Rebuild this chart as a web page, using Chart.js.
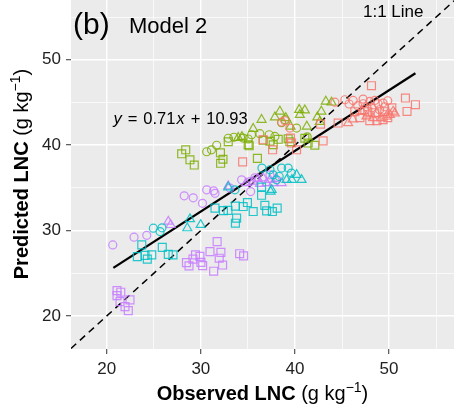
<!DOCTYPE html>
<html>
<head>
<meta charset="utf-8">
<script src="https://cdn.jsdelivr.net/npm/chart.js@4/dist/chart.umd.min.js"></script>
<style>
  html, body { margin: 0; padding: 0; background: #fff; overflow: hidden; }
  #grafica { display: block; }
</style>
</head>
<body>
<canvas id="grafica" width="454" height="408"></canvas>
<script>
// observed (x) vs predicted (y), g kg-1
const red_cuadros = [[34.44,38.05],[36.62,40.63],[37.62,39.46],[39.53,40.83],[39.64,40.25],[40.17,39.46],[42.72,42.47],[42.99,40.5],[44.59,42.59],[47.95,42.86],[49.36,42.98],[48.13,46.96],[51.74,45.52],[52.80,44.74],[51.91,43.95],[46.36,43.92],[46.90,43.21],[48.48,43.80],[49.54,43.92],[47.74,43.92],[48.70,42.86],[49.86,43.21],[50.29,44.38],[47.42,44.15]];
const red_circulos = [[38.58,42.71],[38.93,42.86],[39.46,42.00],[44.24,45.03],[45.75,44.82],[46.18,45.24],[47.24,45.40],[47.24,44.85],[47.95,45.12],[48.48,45.24],[48.83,44.85],[49.36,44.93],[49.54,44.50],[48.16,44.38],[48.99,44.15],[47.63,44.50],[46.67,44.62],[49.86,45.20],[45.30,45.32]];
const red_triangulos = [[45.65,42.59],[46.15,43.04],[47.60,43.39],[48.30,43.18],[49.19,43.18],[49.72,43.36],[50.43,43.95],[50.61,43.74],[50.08,43.56],[48.70,43.68],[47.11,43.92]];

const verde_cuadros = [[27.96,38.99],[28.39,39.46],[28.84,38.29],[29.30,37.67],[32.08,39.11],[32.35,38.35],[32.10,37.88],[32.91,40.40],[35.03,40.05],[35.14,39.93],[36.62,40.57],[37.34,40.46],[37.69,40.05],[38.22,40.69],[39.28,40.75],[39.46,40.40],[41.05,40.81],[41.40,40.25],[42.11,39.99],[36.01,38.46]];
const verde_circulos = [[30.62,39.23],[31.13,39.46],[31.68,39.99],[32.91,40.81],[33.51,40.93],[34.50,40.83],[35.03,40.72],[35.39,41.22],[36.27,41.34],[37.26,41.22],[37.87,41.02],[38.58,42.63],[38.93,42.98],[40.17,42.00],[41.30,40.98]];
const verde_triangulos = [[33.97,40.87],[34.36,40.98],[35.56,41.92],[36.45,42.98],[37.87,43.27],[38.40,43.95],[39.03,43.18],[39.53,42.19],[40.45,44.15],[41.05,44.09],[40.52,43.56],[41.26,42.19],[42.38,43.27],[42.80,43.95],[43.28,45.12],[43.89,45.01],[42.64,42.74]];

const cian_cuadros = [[23.72,28.32],[23.25,26.95],[24.07,27.09],[24.31,26.65],[24.78,27.15],[25.90,28.03],[26.54,27.21],[27.04,27.15],[31.50,32.63],[32.40,32.34],[32.88,32.37],[33.67,32.86],[34.50,32.81],[34.95,33.28],[35.56,32.23],[36.45,34.13],[36.80,32.95],[36.99,32.31],[37.60,32.23],[38.11,32.63],[33.80,31.45],[33.67,30.86],[36.45,35.10]];
const cian_circulos = [[24.95,30.28],[25.66,29.88],[25.87,30.32],[36.49,37.32],[37.34,37.12],[38.58,37.32],[39.28,37.32],[39.62,36.73],[37.69,36.53],[38.32,36.33],[38.05,35.94],[33.62,34.77]];
const cian_triangulos = [[28.56,30.28],[28.84,31.34],[29.98,30.67],[40.17,36.53],[40.70,35.94],[39.11,35.94],[39.67,35.94],[37.52,34.77],[37.41,34.57],[32.91,35.07]];

const morado_cuadros = [[21.09,22.97],[21.49,22.78],[21.09,22.38],[21.41,21.68],[22.47,21.88],[21.94,21.09],[22.29,20.62],[28.47,26.25],[28.74,25.86],[29.43,27.15],[29.90,26.98],[29.16,26.65],[30.01,26.27],[30.19,25.89],[30.97,27.54],[31.73,28.70],[32.13,27.44],[31.95,26.76],[32.31,25.96],[31.36,25.24],[34.12,27.29],[34.54,27.03]];
const morado_circulos = [[20.64,28.32],[22.90,29.23],[24.25,29.44],[28.23,34.07],[29.19,33.83],[30.17,33.19],[30.62,34.77],[31.36,34.65],[31.50,34.36],[33.09,34.97],[34.33,35.94],[35.21,35.74],[35.29,34.57],[35.74,36.18],[37.34,36.53]];
const morado_triangulos = [[26.54,31.05],[26.79,30.66],[32.91,35.20],[34.79,35.56],[35.56,35.74],[36.06,36.06],[36.62,36.14],[36.99,35.56],[37.34,35.94],[37.69,35.56],[38.58,35.56],[36.27,35.47],[37.97,36.06]];

// regression y = 0.71x + 10.93 over the observed range
const pendiente = 0.71;
const intercepto = 10.93;
const rango_observado = [20.7, 52.8];

const limites_x = [16.2, 56.9];
const limites_y = [16.13, 57.0];
const ticks_mayores = [20, 30, 40, 50];
const ticks_menores = [25, 35, 45, 55];

const FUENTE = '"Liberation Sans", Arial, Helvetica, sans-serif';
const alfa = 0.85;

function a_puntos(pares) {
    return pares.map(p => ({ x: p[0], y: p[1] }));
}

function serie(pares, color, forma, radio) {
    return {
        type: 'scatter',
        data: a_puntos(pares),
        pointStyle: forma,
        pointRadius: radio,
        pointHoverRadius: radio,
        pointBorderWidth: 1.2,
        borderColor: color,
        backgroundColor: 'rgba(0,0,0,0)',
        showLine: false
    };
}

const c_red = `rgba(248,118,109,${alfa})`;
const c_verde = `rgba(124,174,0,${alfa})`;
const c_cian = `rgba(0,191,196,${alfa})`;
const c_morado = `rgba(199,124,255,${alfa})`;

const R_CIRC = 4, R_CUAD = 5.6, R_TRI = 5.2;

const datasets = [
    serie(red_circulos, c_red, 'circle', R_CIRC),
    serie(red_triangulos, c_red, 'triangle', R_TRI),
    serie(red_cuadros, c_red, 'rect', R_CUAD),
    serie(verde_circulos, c_verde, 'circle', R_CIRC),
    serie(verde_triangulos, c_verde, 'triangle', R_TRI),
    serie(verde_cuadros, c_verde, 'rect', R_CUAD),
    serie(cian_circulos, c_cian, 'circle', R_CIRC),
    serie(cian_triangulos, c_cian, 'triangle', R_TRI),
    serie(cian_cuadros, c_cian, 'rect', R_CUAD),
    serie(morado_circulos, c_morado, 'circle', R_CIRC),
    serie(morado_triangulos, c_morado, 'triangle', R_TRI),
    serie(morado_cuadros, c_morado, 'rect', R_CUAD),
    {
        type: 'line',
        data: [{ x: limites_x[0], y: limites_x[0] }, { x: limites_x[1], y: limites_x[1] }],
        borderColor: '#000',
        borderWidth: 1.5,
        borderDash: [7, 5],
        pointRadius: 0,
        fill: false
    },
    {
        type: 'line',
        data: rango_observado.map(x => ({ x: x, y: pendiente * x + intercepto })),
        borderColor: '#000',
        borderWidth: 2.3,
        pointRadius: 0,
        fill: false
    }
];

function es_mayor(v) {
    return ticks_mayores.indexOf(v) !== -1;
}

function eje(limites, fit) {
    return {
        type: 'linear',
        min: limites[0],
        max: limites[1],
        afterBuildTicks: (scale) => {
            scale.ticks = ticks_mayores.concat(ticks_menores).sort((a, b) => a - b).map(v => ({ value: v }));
        },
        afterFit: (s) => {
            fit(s);
            s.paddingLeft = 0;
            s.paddingRight = 0;
            s.paddingTop = 0;
            s.paddingBottom = 0;
        },
        border: { display: false },
        grid: {
            color: '#ffffff',
            lineWidth: (ctx) => (ctx.tick && es_mayor(ctx.tick.value)) ? 1.4 : 0.7,
            tickColor: (ctx) => (ctx.tick && es_mayor(ctx.tick.value)) ? '#444' : 'rgba(0,0,0,0)',
            tickWidth: 1.1,
            tickLength: 5,
            drawTicks: true
        },
        ticks: {
            autoSkip: false,
            maxRotation: 0,
            padding: 5,
            color: '#222',
            font: { family: FUENTE, size: 17 },
            callback: (v) => es_mayor(v) ? String(v) : ''
        }
    };
}

function texto_mixto(ctx, partes, cx, cy) {
    let total = 0;
    partes.forEach((p, i) => { ctx.font = p.f; total += ctx.measureText(p.t).width + (i < partes.length - 1 ? (p.gap || 0) : 0); });
    let x = cx - total / 2;
    partes.forEach(p => {
        ctx.font = p.f;
        ctx.fillText(p.t, x, cy - (p.sube || 0));
        x += ctx.measureText(p.t).width + (p.gap || 0);
    });
}

const anotaciones = {
    id: 'anotaciones',
    beforeDraw(chart) {
        const { ctx, chartArea } = chart;
        ctx.save();
        ctx.fillStyle = '#EBEBEB';
        ctx.fillRect(chartArea.left, chartArea.top, chartArea.right - chartArea.left, chartArea.bottom - chartArea.top);
        ctx.restore();
    },
    afterDraw(chart) {
        const ctx = chart.ctx;
        ctx.save();
        ctx.fillStyle = '#000';
        ctx.textBaseline = 'alphabetic';
        ctx.textAlign = 'left';

        ctx.font = `30px ${FUENTE}`;
        ctx.fillText('(b)', 73, 34);
        ctx.font = `22px ${FUENTE}`;
        ctx.fillText('Model 2', 129, 33);
        ctx.font = `17px ${FUENTE}`;
        ctx.fillText('1:1 Line', 363, 17);

        // equation
        const ecuacion = [
            { t: 'y', f: `italic 16.5px ${FUENTE}`, gap: 6 },
            { t: '=', f: `16.5px ${FUENTE}`, gap: 6 },
            { t: '0.71', f: `16.5px ${FUENTE}`, gap: 1 },
            { t: 'x', f: `italic 16.5px ${FUENTE}`, gap: 6 },
            { t: '+', f: `16.5px ${FUENTE}`, gap: 6 },
            { t: '10.93', f: `16.5px ${FUENTE}` }
        ];
        texto_mixto(ctx, ecuacion, 180.5, 124);

        const titulo = (negrita) => [
            { t: negrita, f: `bold 20px ${FUENTE}` },
            { t: ' (g kg', f: `20px ${FUENTE}` },
            { t: '\u22121', f: `14px ${FUENTE}`, sube: 8 },
            { t: ')', f: `20px ${FUENTE}` }
        ];
        texto_mixto(ctx, titulo('Observed LNC'), 262.5, 400);

        ctx.translate(28, 174);
        ctx.rotate(-Math.PI / 2);
        texto_mixto(ctx, titulo('Predicted LNC'), 0, 0);
        ctx.restore();
    }
};

const ctx = document.getElementById('grafica').getContext('2d');
new Chart(ctx, {
    type: 'scatter',
    data: { datasets: datasets },
    options: {
        responsive: false,
        animation: false,
        layout: { padding: 0, autoPadding: false },
        plugins: {
            legend: { display: false },
            tooltip: { enabled: false }
        },
        scales: {
            x: eje(limites_x, (s) => { s.height = 59; }),
            y: eje(limites_y, (s) => { s.width = 71; })
        }
    },
    plugins: [anotaciones]
});
</script>
</body>
</html>
